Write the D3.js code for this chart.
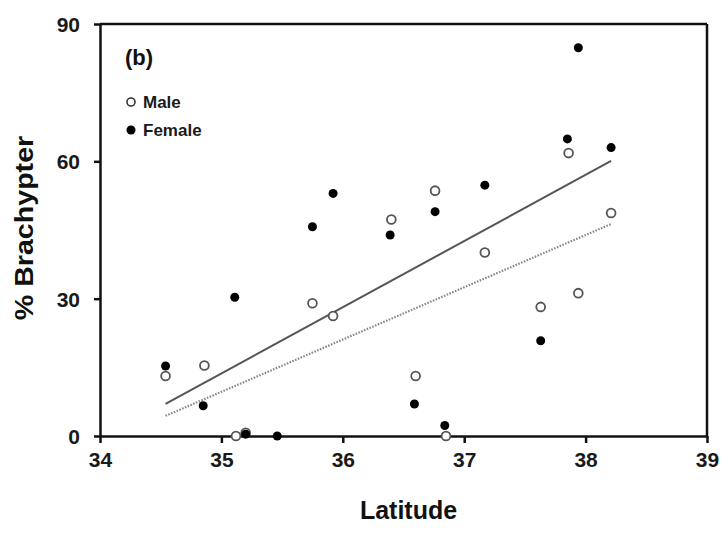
<!DOCTYPE html>
<html>
<head>
<meta charset="utf-8">
<script src="https://cdn.jsdelivr.net/npm/d3@7"></script>
<style>
  html, body { margin: 0; padding: 0; background: #fff; }
  svg { display: block; font-family: "Liberation Sans", Arial, sans-serif; font-weight: bold; }
</style>
</head>
<body>
<svg id="chart" width="728" height="534"></svg>
<script>
// ---- data ----
const femaleLat = [34.54, 34.85, 35.11, 35.20, 35.46, 35.75, 35.92, 36.39, 36.59, 36.76, 36.84, 37.17, 37.63, 37.85, 37.94, 38.21];
const femalePct = [15.3, 6.6, 30.3, 0.4, 0.0, 45.7, 53.0, 43.9, 7.0, 49.0, 2.3, 54.8, 20.8, 64.9, 84.8, 63.0];
const maleLat = [34.54, 34.86, 35.12, 35.20, 35.75, 35.92, 36.40, 36.60, 36.76, 36.85, 37.17, 37.63, 37.86, 37.94, 38.21];
const malePct = [13.1, 15.4, 0.0, 0.7, 29.0, 26.2, 47.3, 13.1, 53.6, 0.0, 40.1, 28.2, 61.8, 31.2, 48.7];
const femaleTrendLat = [34.54, 38.21];
const femaleTrendPct = [7.0, 60.1];
const maleTrendLat = [34.54, 38.21];
const maleTrendPct = [4.4, 46.3];
const xTicks = [34, 35, 36, 37, 38, 39];
const yTicks = [0, 30, 60, 90];
const legendLabels = ["Male", "Female"];
const panelLabel = "(b)";
const xTitle = "Latitude";
const yTitle = "% Brachypter";

// ---- layout ----
const svg = d3.select("#chart");
const mLeft = 100, mRight = 707, mTop = 24, mBottom = 436;
const x = d3.scaleLinear().domain([34, 39]).range([mLeft, mRight]);
const y = d3.scaleLinear().domain([0, 90]).range([mBottom, mTop]);

// frame (top & right)
svg.append("line").attr("x1", mLeft).attr("x2", mRight).attr("y1", mTop).attr("y2", mTop)
  .attr("stroke", "#111").attr("stroke-width", 2.5);
svg.append("line").attr("x1", mRight).attr("x2", mRight).attr("y1", mTop).attr("y2", mBottom)
  .attr("stroke", "#111").attr("stroke-width", 2.5);

// axes
const xAxis = svg.append("g").attr("transform", `translate(0,${mBottom})`)
  .call(d3.axisBottom(x).tickValues(xTicks).tickSize(7).tickSizeOuter(0).tickPadding(9).tickFormat(d3.format("d")));
const yAxis = svg.append("g").attr("transform", `translate(${mLeft},0)`)
  .call(d3.axisLeft(y).tickValues(yTicks).tickSize(6).tickSizeOuter(0).tickPadding(14).tickFormat(d3.format("d")));
[xAxis, yAxis].forEach(g => {
  g.select(".domain").attr("stroke", "#111").attr("stroke-width", 2.5);
  g.selectAll(".tick line").attr("stroke", "#111").attr("stroke-width", 2.5);
  g.selectAll(".tick text").attr("fill", "#1a1a1a").style("font-size", "21px")
    .style("font-family", '"Liberation Sans", Arial, sans-serif').style("font-weight", "bold");
});
yAxis.selectAll(".tick text").attr("dy", "0.36em");

// trend lines
const line = d3.line().x(d => x(d[0])).y(d => y(d[1]));
svg.append("path").datum(d3.zip(femaleTrendLat, femaleTrendPct)).attr("d", line)
  .attr("fill", "none").attr("stroke", "#555").attr("stroke-width", 2);
svg.append("path").datum(d3.zip(maleTrendLat, maleTrendPct)).attr("d", line)
  .attr("fill", "none").attr("stroke", "#8a8a8a").attr("stroke-width", 2.2).attr("stroke-dasharray", "1.6,1.4");

// points
svg.append("g").selectAll("circle").data(d3.zip(maleLat, malePct)).join("circle")
  .attr("cx", d => x(d[0])).attr("cy", d => y(d[1])).attr("r", 4.4)
  .attr("fill", "#fff").attr("stroke", "#555").attr("stroke-width", 1.8);
svg.append("g").selectAll("circle").data(d3.zip(femaleLat, femalePct)).join("circle")
  .attr("cx", d => x(d[0])).attr("cy", d => y(d[1])).attr("r", 4.5)
  .attr("fill", "#000");

// panel label
svg.append("text").attr("x", 125).attr("y", 65).attr("fill", "#111")
  .style("font-size", "22px").text(panelLabel);

// legend
const lg = svg.append("g");
lg.append("circle").attr("cx", 131).attr("cy", 102).attr("r", 4)
  .attr("fill", "#fff").attr("stroke", "#333").attr("stroke-width", 1.6);
lg.append("circle").attr("cx", 131).attr("cy", 130).attr("r", 4.5).attr("fill", "#000");
lg.selectAll("text").data(legendLabels).join("text")
  .attr("x", 143).attr("y", (d, i) => 108 + i * 28).attr("fill", "#1a1a1a")
  .style("font-size", "17px").text(d => d);

// axis titles
svg.append("text").attr("x", (mLeft + mRight) / 2 + 5).attr("y", 519).attr("text-anchor", "middle")
  .attr("fill", "#111").style("font-size", "25px").text(xTitle);
svg.append("text").attr("transform", "translate(33,228) rotate(-90) scale(1.1,1)").attr("text-anchor", "middle")
  .attr("fill", "#111").style("font-size", "26px").text(yTitle);
</script>
</body>
</html>
